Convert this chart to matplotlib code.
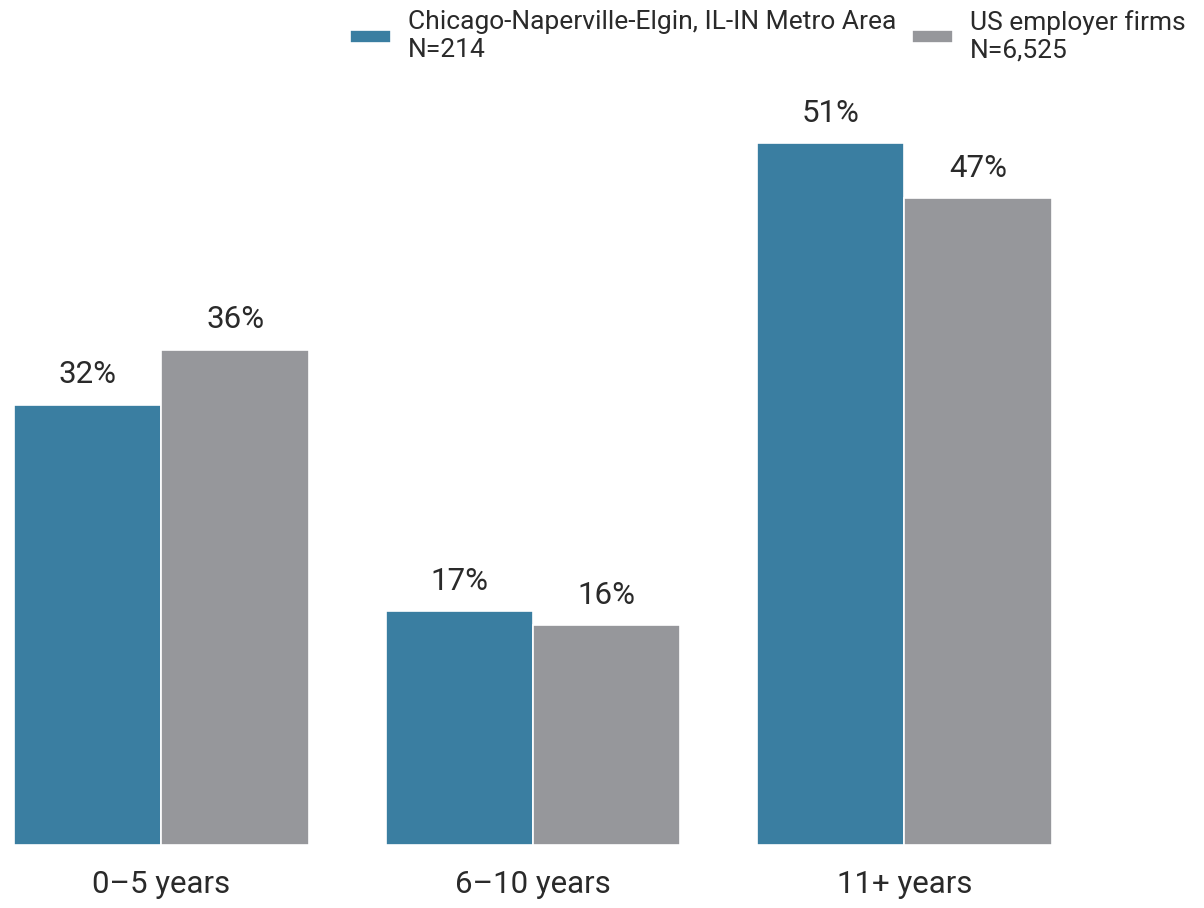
import numpy as np
import matplotlib
matplotlib.use("Agg")
import matplotlib.pyplot as plt

plt.rcParams["font.family"] = ["Roboto", "DejaVu Sans"]

categories = ["0\u20135 years", "6\u201310 years", "11+ years"]
chicago = [32, 17, 51]
us_firms = [36, 16, 47]
series_names = ["Chicago-Naperville-Elgin, IL-IN Metro Area\nN=214", "US employer firms\nN=6,525"]

BLUE = "#3a7ea1"
GRAY = "#96979b"
TEXT = "#2a2a2a"

fig = plt.figure(figsize=(12.04, 9.08), dpi=100)
ax = fig.add_axes([14 / 1204, 63 / 908, (1190 - 14) / 1204, (845 - 60) / 908])

x = np.arange(len(categories))
w = 0.397
b1 = ax.bar(x - w / 2, chicago, w, color=BLUE, edgecolor="white", linewidth=1.2, label=series_names[0])
b2 = ax.bar(x + w / 2, us_firms, w, color=GRAY, edgecolor="white", linewidth=1.2, label=series_names[1])

# value labels above bars
for bars, vals in [(b1, chicago), (b2, us_firms)]:
    for rect, v in zip(bars, vals):
        ax.annotate(f"{v}%", (rect.get_x() + rect.get_width() / 2, rect.get_height()),
                    xytext=(0, 11), textcoords="offset points", ha="center", va="bottom",
                    fontsize=22.5, color=TEXT)

ax.set_xlim(-w, -w + (1190 - 14) / 371.5)
ax.set_ylim(0, (845 - 60) / 13.76)
ax.set_xticks(x)
ax.set_xticklabels(categories, fontsize=22.5, color=TEXT)
ax.tick_params(axis="x", length=0, pad=18)
ax.set_yticks([])
for s in ax.spines.values():
    s.set_visible(False)

fig.legend(handles=[b1, b2], labels=series_names, loc="upper right",
           bbox_to_anchor=(1186 / 1204, 1 - 10 / 908), borderpad=0, borderaxespad=0,
           ncol=2, frameon=False, fontsize=19, handlelength=1.55, handleheight=0.4,
           handletextpad=0.65, columnspacing=0.6, labelcolor=TEXT)

fig.savefig("out.png", dpi=100)
